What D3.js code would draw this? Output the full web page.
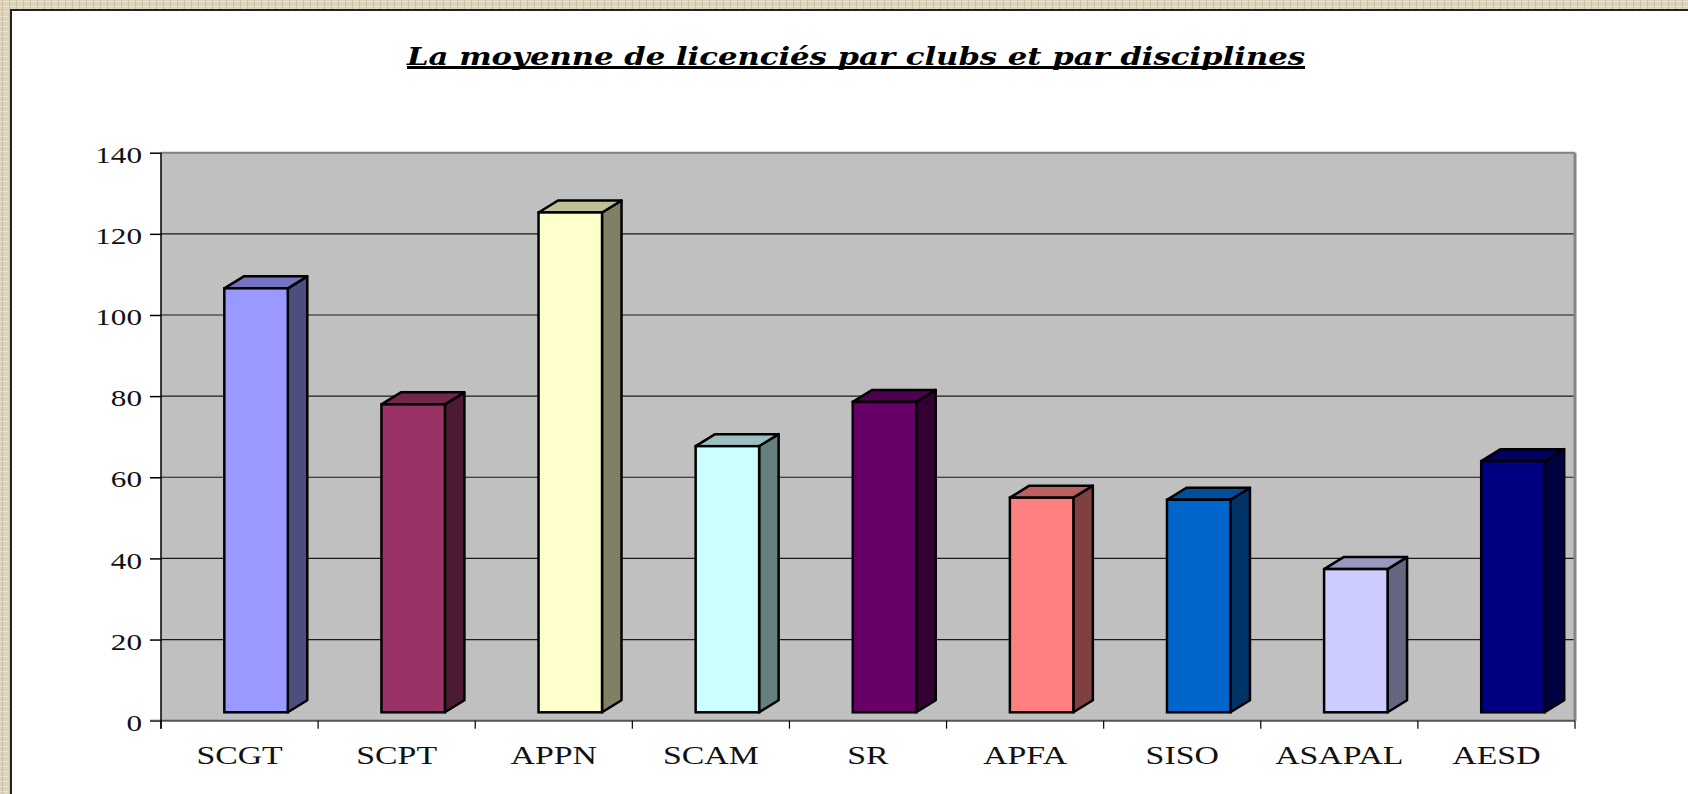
<!DOCTYPE html>
<html>
<head>
<meta charset="utf-8">
<script src="https://cdn.jsdelivr.net/npm/d3@7"></script>
<style>
body { margin: 0; overflow: hidden; background: #fff; }
</style>
</head>
<body>
<div id="chart"></div>
<script>
var clubs = ["SCGT", "SCPT", "APPN", "SCAM", "SR", "APFA", "SISO", "ASAPAL", "AESD"];
var moyennes = [104.5, 75.9, 123.2, 65.6, 76.5, 52.9, 52.4, 35.3, 61.9];
var y_ticks = [0, 20, 40, 60, 80, 100, 120, 140];
var titre = "La moyenne de licenciés par clubs et par disciplines";

var bar_colours = ["#9999ff", "#993366", "#ffffcc", "#ccffff", "#660066", "#ff8080", "#0066cc", "#ccccff", "#000080"];

function shade(c, k){
	var r = d3.rgb(c);
	return d3.rgb(r.r * k, r.g * k, r.b * k).formatHex();
}

var width = 1688, height = 794;
var plot = {left: 161, right: 1575, top: 152.7, bottom: 720.7};

var svg = d3.select("#chart").append("svg")
	.attr("width", width)
	.attr("height", height);

// linen texture border
var defs = svg.append("defs");
var pat = defs.append("pattern")
	.attr("id", "linen")
	.attr("width", 7).attr("height", 5)
	.attr("patternUnits", "userSpaceOnUse");
pat.append("rect").attr("width", 7).attr("height", 5).attr("fill", "#dcd2ba");
pat.append("rect").attr("x", 0).attr("y", 1).attr("width", 7).attr("height", 1).attr("fill", "#ebe5d5");
pat.append("rect").attr("x", 2).attr("y", 0).attr("width", 1).attr("height", 5).attr("fill", "#cdc2a6");
pat.append("rect").attr("x", 5).attr("y", 3).attr("width", 2).attr("height", 1).attr("fill", "#e6ddc8");

svg.append("rect").attr("width", width).attr("height", height).attr("fill", "url(#linen)");
svg.append("rect").attr("x", 10).attr("y", 9).attr("width", width).attr("height", height).attr("fill", "#222");
svg.append("rect").attr("x", 12).attr("y", 11).attr("width", width).attr("height", height).attr("fill", "#fff");

// title
svg.append("text")
	.attr("x", 856)
	.attr("y", 65)
	.attr("text-anchor", "middle")
	.attr("textLength", 898)
	.attr("lengthAdjust", "spacingAndGlyphs")
	.style("font-family", "'DejaVu Serif', serif")
	.style("font-weight", "bold")
	.style("font-style", "italic")
	.style("font-size", "25px")
	.text(titre);
svg.append("line")
	.attr("x1", 407).attr("x2", 1305)
	.attr("y1", 67.5).attr("y2", 67.5)
	.attr("stroke", "#000").attr("stroke-width", 3);

var x = d3.scaleBand().domain(clubs).range([plot.left, plot.right]);
var y = d3.scaleLinear().domain([0, 140]).range([plot.bottom, plot.top]);

// back wall
svg.append("rect")
	.attr("x", plot.left).attr("y", plot.top)
	.attr("width", plot.right - plot.left)
	.attr("height", plot.bottom - plot.top)
	.attr("fill", "#c0c0c0");

// gridlines
svg.append("g").selectAll("line")
	.data(y_ticks.filter(function(d){ return d > 0 && d < 140; }))
	.enter().append("line")
	.attr("x1", plot.left).attr("x2", plot.right)
	.attr("y1", function(d){ return y(d); })
	.attr("y2", function(d){ return y(d); })
	.attr("stroke", "#1a1a1a")
	.attr("stroke-width", 1.2);

// wall edges
svg.append("line").attr("x1", plot.left).attr("x2", plot.right)
	.attr("y1", plot.top).attr("y2", plot.top)
	.attr("stroke", "#808080").attr("stroke-width", 2);
svg.append("line").attr("x1", plot.right).attr("x2", plot.right)
	.attr("y1", plot.top).attr("y2", plot.bottom)
	.attr("stroke", "#858585").attr("stroke-width", 3);

// Y axis
var yAxis = svg.append("g")
	.attr("transform", "translate(" + plot.left + ",0)")
	.call(d3.axisLeft(y).tickValues(y_ticks).tickSize(11));
yAxis.select(".domain").remove();
yAxis.selectAll("line").attr("stroke", "#000").attr("stroke-width", 1.5);
yAxis.selectAll("text")
	.attr("x", -14.6)
	.attr("dy", "0.4em")
	.attr("transform", "scale(1.3,1)")
	.style("font-family", "'Liberation Serif', 'Times New Roman', serif")
	.style("font-size", "24px")
	.attr("fill", "#111");

// X axis floor line and ticks
svg.append("line").attr("x1", plot.left - 11).attr("x2", plot.right)
	.attr("y1", plot.bottom).attr("y2", plot.bottom)
	.attr("stroke", "#555").attr("stroke-width", 2);
var edges = clubs.map(function(c){ return x(c); }).concat([plot.right]);
svg.append("g").selectAll("line")
	.data(edges)
	.enter().append("line")
	.attr("x1", function(d){ return d; })
	.attr("x2", function(d){ return d; })
	.attr("y1", plot.bottom).attr("y2", plot.bottom + 8)
	.attr("stroke", "#000").attr("stroke-width", 1.2);
svg.append("line").attr("x1", plot.left).attr("x2", plot.left)
	.attr("y1", plot.top).attr("y2", plot.bottom + 8)
	.attr("stroke", "#000").attr("stroke-width", 1.5);

var xAxis = svg.append("g")
	.attr("transform", "translate(0," + plot.bottom + ")")
	.call(d3.axisBottom(x).tickSize(0));
xAxis.select(".domain").remove();
xAxis.selectAll("text")
	.attr("y", 43.6)
	.attr("dy", 0)
	.attr("transform", "scale(1.3,1)")
	.style("font-family", "'Liberation Serif', 'Times New Roman', serif")
	.style("font-size", "26px")
	.attr("fill", "#111");

// 3D columns
var frontW = x.bandwidth() * 0.404,
	shift = 16.5,
	lift = 8.4,
	dx = 19.5,
	dy = -12;

var bars = svg.append("g").selectAll("g")
	.data(clubs)
	.enter().append("g");

bars.each(function(c, i){
	var g = d3.select(this);
	var xl = x(c) + x.bandwidth() / 2 + shift - frontW / 2,
		xr = xl + frontW,
		yt = y(moyennes[i]) - lift,
		yb = y(0) - lift;
	var col = bar_colours[i];

	g.append("polygon")
		.attr("points", [[xr, yt], [xr + dx, yt + dy], [xr + dx, yb + dy], [xr, yb]].join(" "))
		.attr("fill", shade(col, 0.5))
		.attr("stroke", "#000").attr("stroke-width", 2.5).attr("stroke-linejoin", "round");
	g.append("polygon")
		.attr("points", [[xl, yt], [xl + dx, yt + dy], [xr + dx, yt + dy], [xr, yt]].join(" "))
		.attr("fill", shade(col, 0.75))
		.attr("stroke", "#000").attr("stroke-width", 2.5).attr("stroke-linejoin", "round");
	g.append("rect")
		.attr("x", xl).attr("y", yt)
		.attr("width", frontW).attr("height", yb - yt)
		.attr("fill", col)
		.attr("stroke", "#000").attr("stroke-width", 2.5);
});
</script>
</body>
</html>
